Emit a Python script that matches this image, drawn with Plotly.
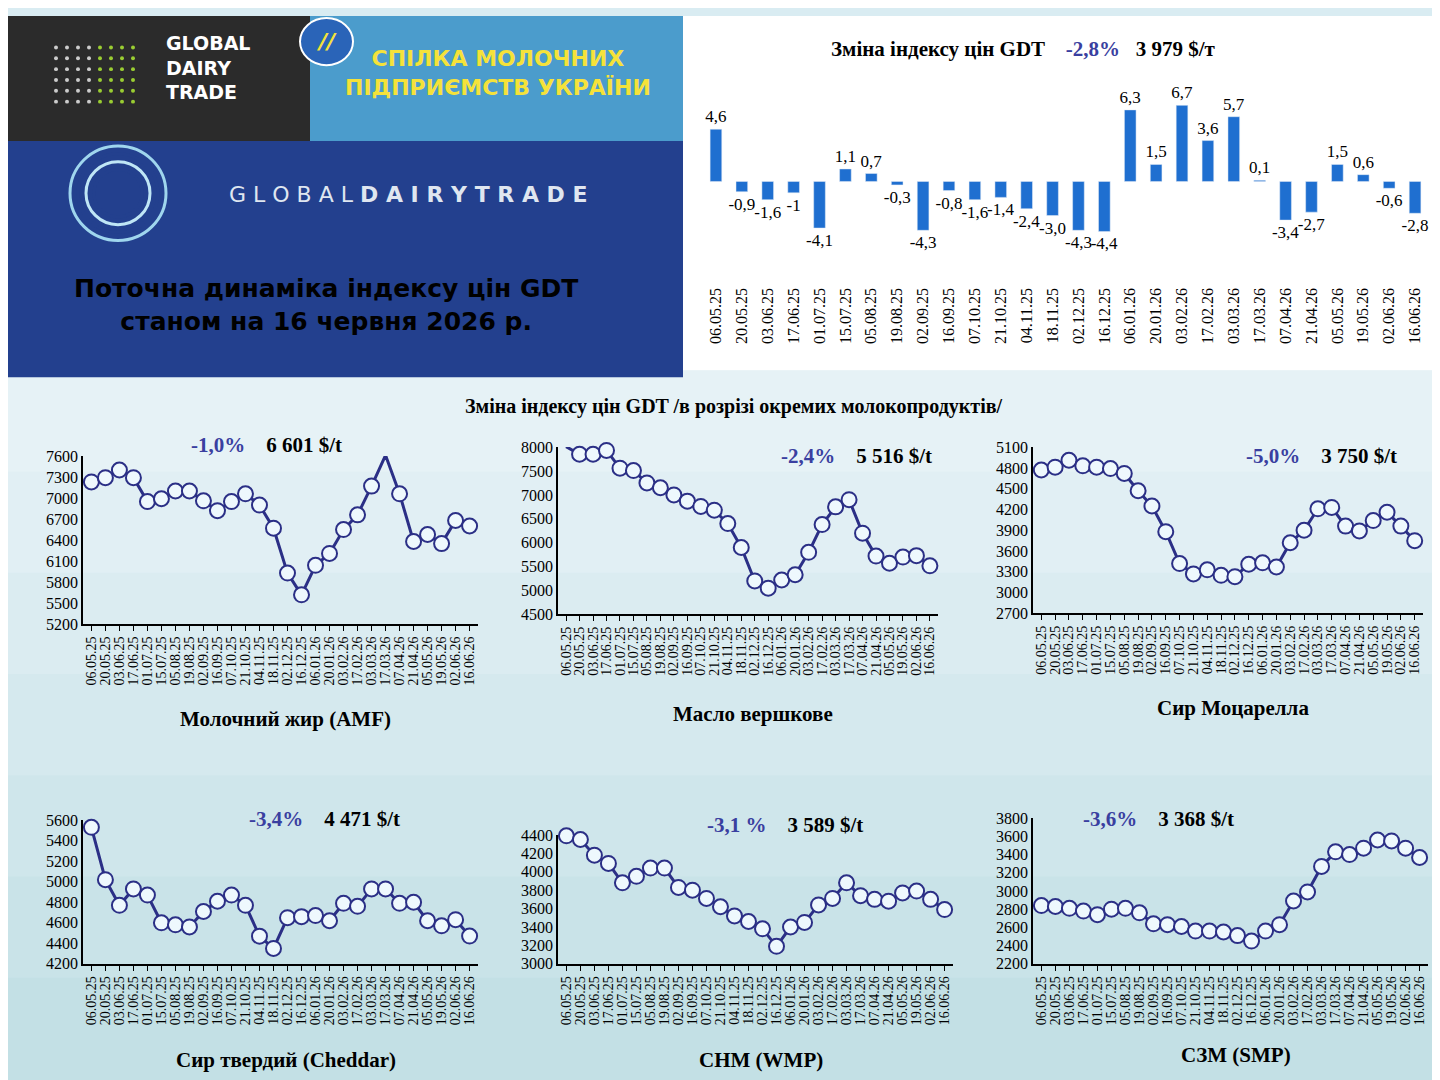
import plotly.graph_objects as go

W, H = 1440, 1080

dates = ["06.05.25", "20.05.25", "03.06.25", "17.06.25", "01.07.25", "15.07.25", "05.08.25",
         "19.08.25", "02.09.25", "16.09.25", "07.10.25", "21.10.25", "04.11.25", "18.11.25",
         "02.12.25", "16.12.25", "06.01.26", "20.01.26", "03.02.26", "17.02.26", "03.03.26",
         "17.03.26", "07.04.26", "21.04.26", "05.05.26", "19.05.26", "02.06.26", "16.06.26"]

gdt_change = [4.6, -0.9, -1.6, -1, -4.1, 1.1, 0.7, -0.3, -4.3, -0.8, -1.6, -1.4, -2.4, -3.0,
              -4.3, -4.4, 6.3, 1.5, 6.7, 3.6, 5.7, 0.1, -3.4, -2.7, 1.5, 0.6, -0.6, -2.8]
gdt_labels = ["4,6", "-0,9", "-1,6", "-1", "-4,1", "1,1", "0,7", "-0,3", "-4,3", "-0,8", "-1,6",
              "-1,4", "-2,4", "-3,0", "-4,3", "-4,4", "6,3", "1,5", "6,7", "3,6", "5,7", "0,1",
              "-3,4", "-2,7", "1,5", "0,6", "-0,6", "-2,8"]

amf = [7230, 7290, 7400, 7290, 6950, 6990, 7100, 7100, 6960, 6820, 6950, 7060, 6900, 6570,
       5930, 5620, 6040, 6210, 6550, 6760, 7170, 7610, 7060, 6380, 6480, 6350, 6680, 6601]
butter = [8010, 7850, 7850, 7930, 7560, 7510, 7250, 7150, 7000, 6870, 6760, 6680, 6400, 5900,
          5200, 5050, 5220, 5330, 5800, 6380, 6750, 6900, 6200, 5720, 5570, 5700, 5730, 5516]
mozzarella = [4770, 4810, 4910, 4830, 4810, 4790, 4720, 4470, 4250, 3880, 3420, 3270, 3330, 3250,
              3230, 3410, 3430, 3370, 3720, 3900, 4210, 4230, 3960, 3890, 4040, 4160, 3960, 3750]
cheddar = [5530, 5020, 4770, 4930, 4870, 4600, 4580, 4560, 4710, 4810, 4870, 4770, 4470, 4350,
           4650, 4660, 4670, 4620, 4790, 4760, 4930, 4930, 4790, 4800, 4620, 4570, 4630, 4471]
wmp = [4390, 4350, 4180, 4090, 3880, 3950, 4040, 4040, 3830, 3800, 3710, 3620, 3520, 3460,
       3380, 3190, 3400, 3450, 3640, 3710, 3880, 3740, 3700, 3680, 3770, 3790, 3700, 3589]
smp = [2840, 2830, 2810, 2780, 2740, 2800, 2810, 2760, 2640, 2630, 2610, 2560, 2560, 2550,
       2510, 2450, 2560, 2630, 2890, 2990, 3270, 3430, 3400, 3470, 3560, 3550, 3470, 3368]

# (series, name, change, price, y ticks, x px, y px(top,bottom), header pos, name y)
panels = [
    (amf, "Молочний жир (AMF)", "-1,0%", "6 601 $/t", list(range(5200, 7601, 300)),
     (75, 470), (447, 618), (258, 436), 714),
    (butter, "Масло вершкове", "-2,4%", "5 516 $/t", list(range(4500, 8001, 500)),
     (550, 930), (438, 608), (848, 447), 709),
    (mozzarella, "Сир Моцарелла", "-5,0%", "3 750 $/t", list(range(2700, 5101, 300)),
     (1025, 1415), (438, 607), (1313, 447), 703),
    (cheddar, "Сир твердий (Cheddar)", "-3,4%", "4 471 $/t", list(range(4200, 5601, 200)),
     (75, 470), (817, 963), (316, 816), 1061),
    (wmp, "СНМ (WMP)", "-3,1 %", "3 589 $/t", list(range(3000, 4401, 200)),
     (550, 945), (832, 963), (777, 822), 1061),
    (smp, "СЗМ (SMP)", "-3,6%", "3 368 $/t", list(range(2200, 3801, 200)),
     (1025, 1420), (815, 963), (1150, 816), 1056),
]

SERIF = "Liberation Serif"
NAVY = "#2b2f86"
BLUE = "#3a3fa0"


def px_x(v):
    return v / W


def px_y(v):
    return 1 - v / H


def note(x, y, text, size, color="black", family=SERIF, **kw):
    return dict(x=px_x(x), y=px_y(y), xref="paper", yref="paper", showarrow=False,
                xanchor="center", yanchor="middle", text=text,
                font=dict(family=family, size=size, color=color), **kw)


fig = go.Figure()
shapes, annos = [], []

# background gradient bands
bands = ["#e6f2f6", "#e1eff4", "#dbecf1", "#d5e9ee", "#cfe6eb", "#c9e3e8", "#c3e0e5"]
step = (H - 360) / len(bands)
for i, c in enumerate(bands):
    shapes.append(dict(type="rect", xref="paper", yref="paper", x0=0, x1=1,
                       y0=px_y(360 + (i + 1) * step + 1), y1=px_y(360 + i * step),
                       fillcolor=c, line_width=0, layer="below"))
shapes.append(dict(type="rect", xref="paper", yref="paper", x0=px_x(675), x1=1, y0=px_y(360), y1=1,
                   fillcolor="white", line_width=0, layer="below"))
shapes.append(dict(type="rect", xref="paper", yref="paper", x0=0, x1=px_x(675), y0=px_y(367), y1=px_y(127),
                   fillcolor="#23408e", line_width=0, layer="below"))
shapes.append(dict(type="rect", xref="paper", yref="paper", x0=0, x1=px_x(302), y0=px_y(127), y1=1,
                   fillcolor="#2b2b2b", line_width=0, layer="below"))
shapes.append(dict(type="rect", xref="paper", yref="paper", x0=px_x(302), x1=px_x(675), y0=px_y(127), y1=1,
                   fillcolor="#4b9ccc", line_width=0, layer="below"))
# union logo circle
shapes.append(dict(type="circle", xref="paper", yref="paper", x0=px_x(292), x1=px_x(345),
                   y0=px_y(50), y1=px_y(2), fillcolor="#2a64b8", line=dict(color="white", width=2)))
annos.append(note(318, 26, "<b><i>//</i></b>", 22, "#f5e23a", "DejaVu Sans"))
# swirl logo
for r, c in [(48, "#9fd6ee"), (40, "#23408e"), (32, "#bfe6f6"), (24, "#23408e")]:
    shapes.append(dict(type="circle", xref="paper", yref="paper", x0=px_x(110 - r), x1=px_x(110 + r),
                       y0=px_y(180 + r), y1=px_y(180 - r), line=dict(color=c, width=3)))

# GDT dot grid logo
for i in range(8):
    for j in range(6):
        shapes.append(dict(type="circle", xref="paper", yref="paper",
                           x0=px_x(46 + i * 11), x1=px_x(50 + i * 11),
                           y0=px_y(34 + j * 11), y1=px_y(30 + j * 11),
                           fillcolor="#9acd32" if i > 3 else "#cccccc", line_width=0))
annos.append(note(200, 52, "<b>GLOBAL<br>DAIRY<br>TRADE</b>", 19, "white", "DejaVu Sans",
                  align="left"))
annos.append(note(490, 58, "<b>СПІЛКА МОЛОЧНИХ<br>ПІДПРИЄМСТВ УКРАЇНИ</b>", 22, "#f5e23a",
                  "DejaVu Sans", align="center"))
annos.append(note(400, 181, "G L O B A L <b>D A I R Y T R A D E</b>", 22, "#dfe6f0", "DejaVu Sans"))
annos.append(note(318, 294, "<b>Поточна динаміка індексу цін GDT<br>станом на 16 червня 2026 р.</b>",
                  25, "black", "DejaVu Sans", align="center"))

# bar chart
fig.add_trace(go.Bar(x=dates, y=gdt_change, marker_color="#1f6fd0", width=0.45,
                     text=gdt_labels, textposition="outside", cliponaxis=False,
                     constraintext="none",
                     textfont=dict(family=SERIF, size=17, color="black"),
                     xaxis="x", yaxis="y", showlegend=False))
layout = dict(
    xaxis=dict(domain=[px_x(695), px_x(1420)], anchor="y", tickangle=-90, showline=False,
               tickfont=dict(family=SERIF, size=16, color="black"), ticks="", showgrid=False,
               dtick=1),
    yaxis=dict(domain=[px_y(272), px_y(70)], range=[-9.0, 8.5],
               visible=False, showgrid=False, zeroline=False),
)
annos.append(note(1015, 34, "<b>Зміна індексу цін GDT    <span style='color:#3a3fa0'>-2,8%</span>   3 979 $/т</b>", 21))
annos.append(note(725, 397, "<b>Зміна індексу цін GDT /в розрізі окремих молокопродуктів/</b>", 20))

for k, (vals, name, chg, price, ticks, xr, yr, hp, ny) in enumerate(panels, start=2):
    xa, ya = f"x{k}", f"y{k}"
    fig.add_trace(go.Scatter(x=dates, y=vals, mode="lines+markers", xaxis=xa, yaxis=ya,
                             line=dict(color=NAVY, width=3), showlegend=False, cliponaxis=False,
                             marker=dict(size=15, color="#eef8fd", line=dict(color=NAVY, width=2))))
    layout[f"xaxis{k}"] = dict(domain=[px_x(xr[0]), px_x(xr[1])], anchor=ya, tickangle=-90,
                               showline=True, linecolor="black", linewidth=1.5, ticks="outside",
                               ticklen=5, tickcolor="black", range=[-0.6, 27.6], showgrid=False,
                               dtick=1, tickfont=dict(family=SERIF, size=14, color="black"))
    layout[f"yaxis{k}"] = dict(domain=[px_y(yr[1]), px_y(yr[0])], anchor=xa,
                               range=[ticks[0], ticks[-1]], tickvals=ticks, showgrid=False,
                               showline=True, linecolor="black", linewidth=1.5, zeroline=False,
                               ticks="", tickfont=dict(family=SERIF, size=16, color="black"))
    annos.append(note(hp[0], hp[1], f"<b><span style='color:{BLUE}'>{chg}</span>    {price}</b>", 21))
    annos.append(note((xr[0] + xr[1]) / 2 + 5, ny, f"<b>{name}</b>", 21))

fig.update_layout(width=W, height=H, margin=dict(l=0, r=0, t=0, b=0),
                  paper_bgcolor="#d9ecf2", plot_bgcolor="rgba(0,0,0,0)",
                  shapes=shapes, annotations=annos, bargap=0.5, **layout)
fig.write_html("out.html")
